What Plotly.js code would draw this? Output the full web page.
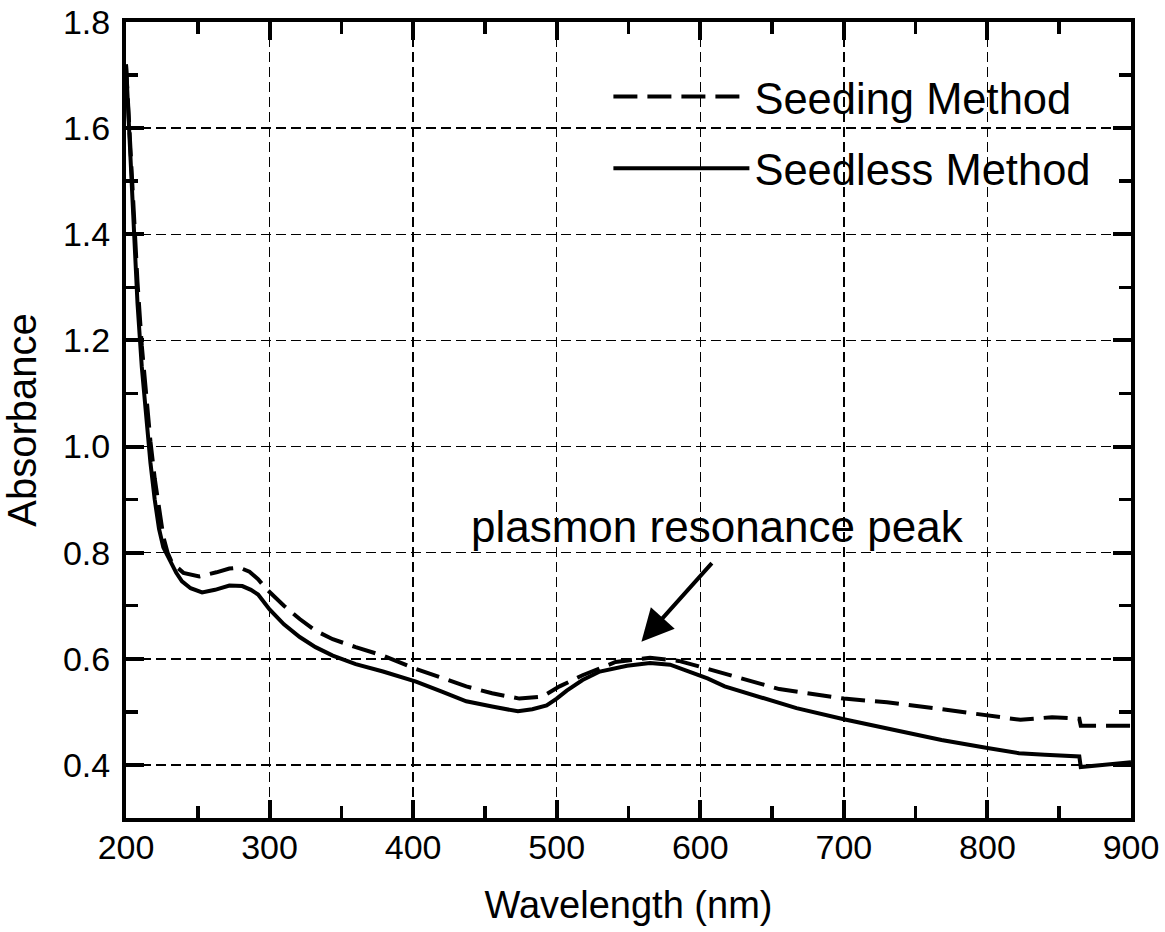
<!DOCTYPE html>
<html>
<head>
<meta charset="utf-8">
<script src="https://cdn.plot.ly/plotly-3.0.1.min.js"></script>
<style>html,body{margin:0;padding:0;background:#fff;}#chart{width:1165px;height:932px;}</style>
</head>
<body>
<div id="chart"></div>
<script>
// Seedless Method (solid)
const seedlessX = [200,202,205,208,211,214,217,220,223,226,228,232,235,239,245,253,262,272,281,287,292,300,310,321,332,344,360,379,402,420,437,455,473,483,493,500,507,518,530,549,565,579,594,605,617,642,667,700,730,768,800,822,840,864,865,880,900];
const seedlessY = [1.72,1.60,1.42,1.27,1.15,1.05,0.97,0.90,0.845,0.81,0.80,0.78,0.762,0.746,0.733,0.725,0.73,0.738,0.737,0.73,0.721,0.693,0.665,0.641,0.622,0.606,0.59,0.576,0.557,0.538,0.52,0.51,0.501,0.505,0.512,0.525,0.54,0.56,0.576,0.587,0.592,0.589,0.575,0.563,0.548,0.527,0.507,0.486,0.469,0.447,0.432,0.422,0.419,0.416,0.396,0.40,0.405];
// Seeding Method (dashed)
const seedingX = [200,202,205,208,211,214,217,220,223,226,229,232,240,251,263,272,279,286,292,298,310,321,332,344,360,379,402,420,437,455,474,490,502,518,541,565,585,600,629,655,700,730,768,800,823,845,864,865,900];
const seedingY = [1.72,1.62,1.45,1.31,1.19,1.09,1.01,0.94,0.88,0.83,0.80,0.781,0.762,0.755,0.763,0.77,0.772,0.764,0.75,0.731,0.70,0.675,0.653,0.637,0.622,0.606,0.581,0.563,0.548,0.535,0.525,0.529,0.548,0.569,0.594,0.602,0.596,0.585,0.562,0.543,0.525,0.518,0.505,0.494,0.485,0.49,0.487,0.474,0.474];

const seriesNames = ["Seeding Method", "Seedless Method"];
const xTitle = "Wavelength (nm)";
const yTitle = "Absorbance";
const noteText = "plasmon resonance peak";
const noteTextPos = [612, 0.85];
const arrowTip = [559, 0.632];
const arrowTail = [609, 0.783];

const FONT = "'Liberation Sans', Arial, Helvetica, sans-serif";

const traces = [
  {x: seedingX, y: seedingY, name: seriesNames[0], mode: "lines", legendgroup: "a",
   line: {color: "#000", width: 4, dash: "24px,10px"}},
  {x: seedlessX, y: seedlessY, name: seriesNames[1], mode: "lines", legendgroup: "b",
   line: {color: "#000", width: 4}}
];

const axisCommon = {
  showline: true, linecolor: "#000", linewidth: 4, mirror: "allticks",
  ticks: "inside", ticklen: 18, tickwidth: 4, tickcolor: "#000",
  showgrid: true, gridcolor: "#000", gridwidth: 1.5, griddash: "10px,5px",
  zeroline: false,
  tickfont: {family: FONT, size: 34, color: "#000"}
};

const layout = {
  width: 1165, height: 932,
  margin: {l: 126, r: 34, t: 22, b: 114},
  paper_bgcolor: "#fff", plot_bgcolor: "#fff",
  font: {family: FONT, color: "#000"},
  showlegend: true,
  legend: {x: 0.48, y: 0.95, xanchor: "left", yanchor: "top", bgcolor: "rgba(0,0,0,0)",
           font: {family: FONT, size: 43.5, color: "#000"}, itemwidth: 136, traceorder: "grouped", tracegroupgap: 12},
  xaxis: Object.assign({}, axisCommon, {
    range: [200, 900], dtick: 100, tick0: 200,
    minor: {ticks: "inside", ticklen: 12, tickwidth: 3.5, dtick: 50, tickcolor: "#000", showgrid: false},
    ticklabelstandoff: -4,
    title: {text: xTitle, font: {family: FONT, size: 38, color: "#000"}, standoff: 28}
  }),
  yaxis: Object.assign({}, axisCommon, {
    range: [0.3, 1.8], dtick: 0.2, tick0: 0.4, tickformat: ".1f",
    minor: {ticks: "inside", ticklen: 12, tickwidth: 3.5, dtick: 0.1, tickcolor: "#000", showgrid: false},
    ticklabelstandoff: 5,
    title: {text: yTitle, font: {family: FONT, size: 40, color: "#000"}, standoff: 20}
  }),
  annotations: [
    {x: noteTextPos[0], y: noteTextPos[1], xref: "x", yref: "y", text: noteText, showarrow: false,
     font: {family: FONT, size: 44, color: "#000"}},
    {x: arrowTip[0], y: arrowTip[1], xref: "x", yref: "y", ax: arrowTail[0], ay: arrowTail[1],
     axref: "x", ayref: "y", text: "", showarrow: true, arrowhead: 2, arrowsize: 1.6, arrowwidth: 4, arrowcolor: "#000"}
  ]
};

Plotly.newPlot("chart", traces, layout, {displayModeBar: false, staticPlot: true});
</script>
</body>
</html>
